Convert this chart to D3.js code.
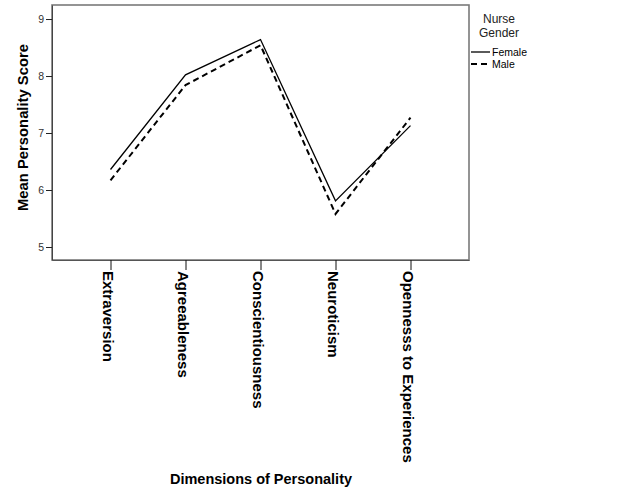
<!DOCTYPE html>
<html>
<head>
<meta charset="utf-8">
<script src="https://cdn.jsdelivr.net/npm/d3@7"></script>
<style>
  body { margin: 0; background: #fff; }
  svg text { font-family: Arial, "Liberation Sans", sans-serif; }
</style>
</head>
<body>
<div id="chart"></div>
<script>
var dimensions = ["Extraversion", "Agreeableness", "Conscientiousness", "Neuroticism", "Opennesss to Experiences"];
var femaleScores = [6.36, 8.02, 8.64, 5.81, 7.13];
var maleScores = [6.17, 7.84, 8.54, 5.58, 7.27];
var yTicks = [5, 6, 7, 8, 9];
var genders = ["Female", "Male"];

var margin = { top: 5, right: 157, bottom: 241, left: 52 },
    width = 626 - margin.left - margin.right,
    height = 501 - margin.top - margin.bottom;

var svg = d3.select("#chart")
    .append("svg")
    .attr("width", 626)
    .attr("height", 501)
    .append("g")
    .attr("transform", "translate(" + margin.left + "," + margin.top + ")");

var x = d3.scalePoint()
    .domain(dimensions)
    .range([0, width])
    .padding(0.78);

var y = d3.scaleLinear()
    .domain([4.772, 9.246])
    .range([height, 0]);

// frame
svg.append("rect")
    .attr("width", width)
    .attr("height", height)
    .attr("fill", "none")
    .attr("stroke", "#7a7a7a")
    .attr("stroke-width", 1.6);

// y axis
var yAxis = svg.append("g")
    .call(d3.axisLeft(y).tickValues(yTicks).tickSize(6).tickSizeOuter(0).tickFormat(d3.format("d")));
yAxis.select(".domain").attr("stroke", "#444");
yAxis.selectAll(".tick line").attr("stroke", "#222");
yAxis.selectAll(".tick text")
    .attr("fill", "#333")
    .style("font-size", "10.5px")
    .attr("x", -8);

// x axis
var xAxis = svg.append("g")
    .attr("transform", "translate(0," + height + ")")
    .call(d3.axisBottom(x).tickSize(10).tickSizeOuter(0));
xAxis.select(".domain").attr("stroke", "#555");
xAxis.selectAll(".tick line").attr("stroke", "#111");
xAxis.selectAll(".tick text")
    .attr("fill", "#000")
    .style("font-size", "15px")
    .style("font-weight", "bold")
    .attr("text-anchor", "start")
    .attr("transform", "rotate(90)")
    .attr("x", 11)
    .attr("y", 0)
    .attr("dy", "0.52em");

// lines
var line = d3.line()
    .x(function(d, i) { return x(dimensions[i]); })
    .y(function(d) { return y(d); });

svg.append("path")
    .datum(femaleScores)
    .attr("d", line)
    .attr("fill", "none")
    .attr("stroke", "#000")
    .attr("stroke-width", 1.3);

svg.append("path")
    .datum(maleScores)
    .attr("d", line)
    .attr("fill", "none")
    .attr("stroke", "#000")
    .attr("stroke-width", 2)
    .attr("stroke-dasharray", "6,4");

// axis titles
svg.append("text")
    .attr("transform", "rotate(-90)")
    .attr("x", -height / 2 + 5)
    .attr("y", -24)
    .attr("text-anchor", "middle")
    .style("font-size", "14.8px")
    .style("font-weight", "bold")
    .text("Mean Personality Score");

svg.append("text")
    .attr("x", 209)
    .attr("y", 479)
    .attr("text-anchor", "middle")
    .style("font-size", "14.5px")
    .style("font-weight", "bold")
    .text("Dimensions of Personality");

// legend
var legend = svg.append("g")
    .attr("transform", "translate(" + (width + 2) + ",0)");

legend.append("text")
    .attr("x", 28)
    .attr("y", 18)
    .attr("text-anchor", "middle")
    .attr("fill", "#222")
    .style("font-size", "12px")
    .text("Nurse");

legend.append("text")
    .attr("x", 28)
    .attr("y", 32)
    .attr("text-anchor", "middle")
    .attr("fill", "#222")
    .style("font-size", "12px")
    .text("Gender");

var item = legend.selectAll(".item")
    .data(genders)
    .enter()
    .append("g")
    .attr("class", "item")
    .attr("transform", function(d, i) { return "translate(0," + (47 + i * 12) + ")"; });

item.append("line")
    .attr("x1", 0)
    .attr("x2", 19)
    .attr("stroke", "#000")
    .attr("stroke-width", function(d) { return d == "Male" ? 2 : 1.3; })
    .attr("stroke-dasharray", function(d) { return d == "Male" ? "6,4" : null; });

item.append("text")
    .attr("x", 21)
    .attr("dy", "0.35em")
    .attr("fill", "#000")
    .style("font-size", "10.5px")
    .text(function(d) { return d; });
</script>
</body>
</html>
